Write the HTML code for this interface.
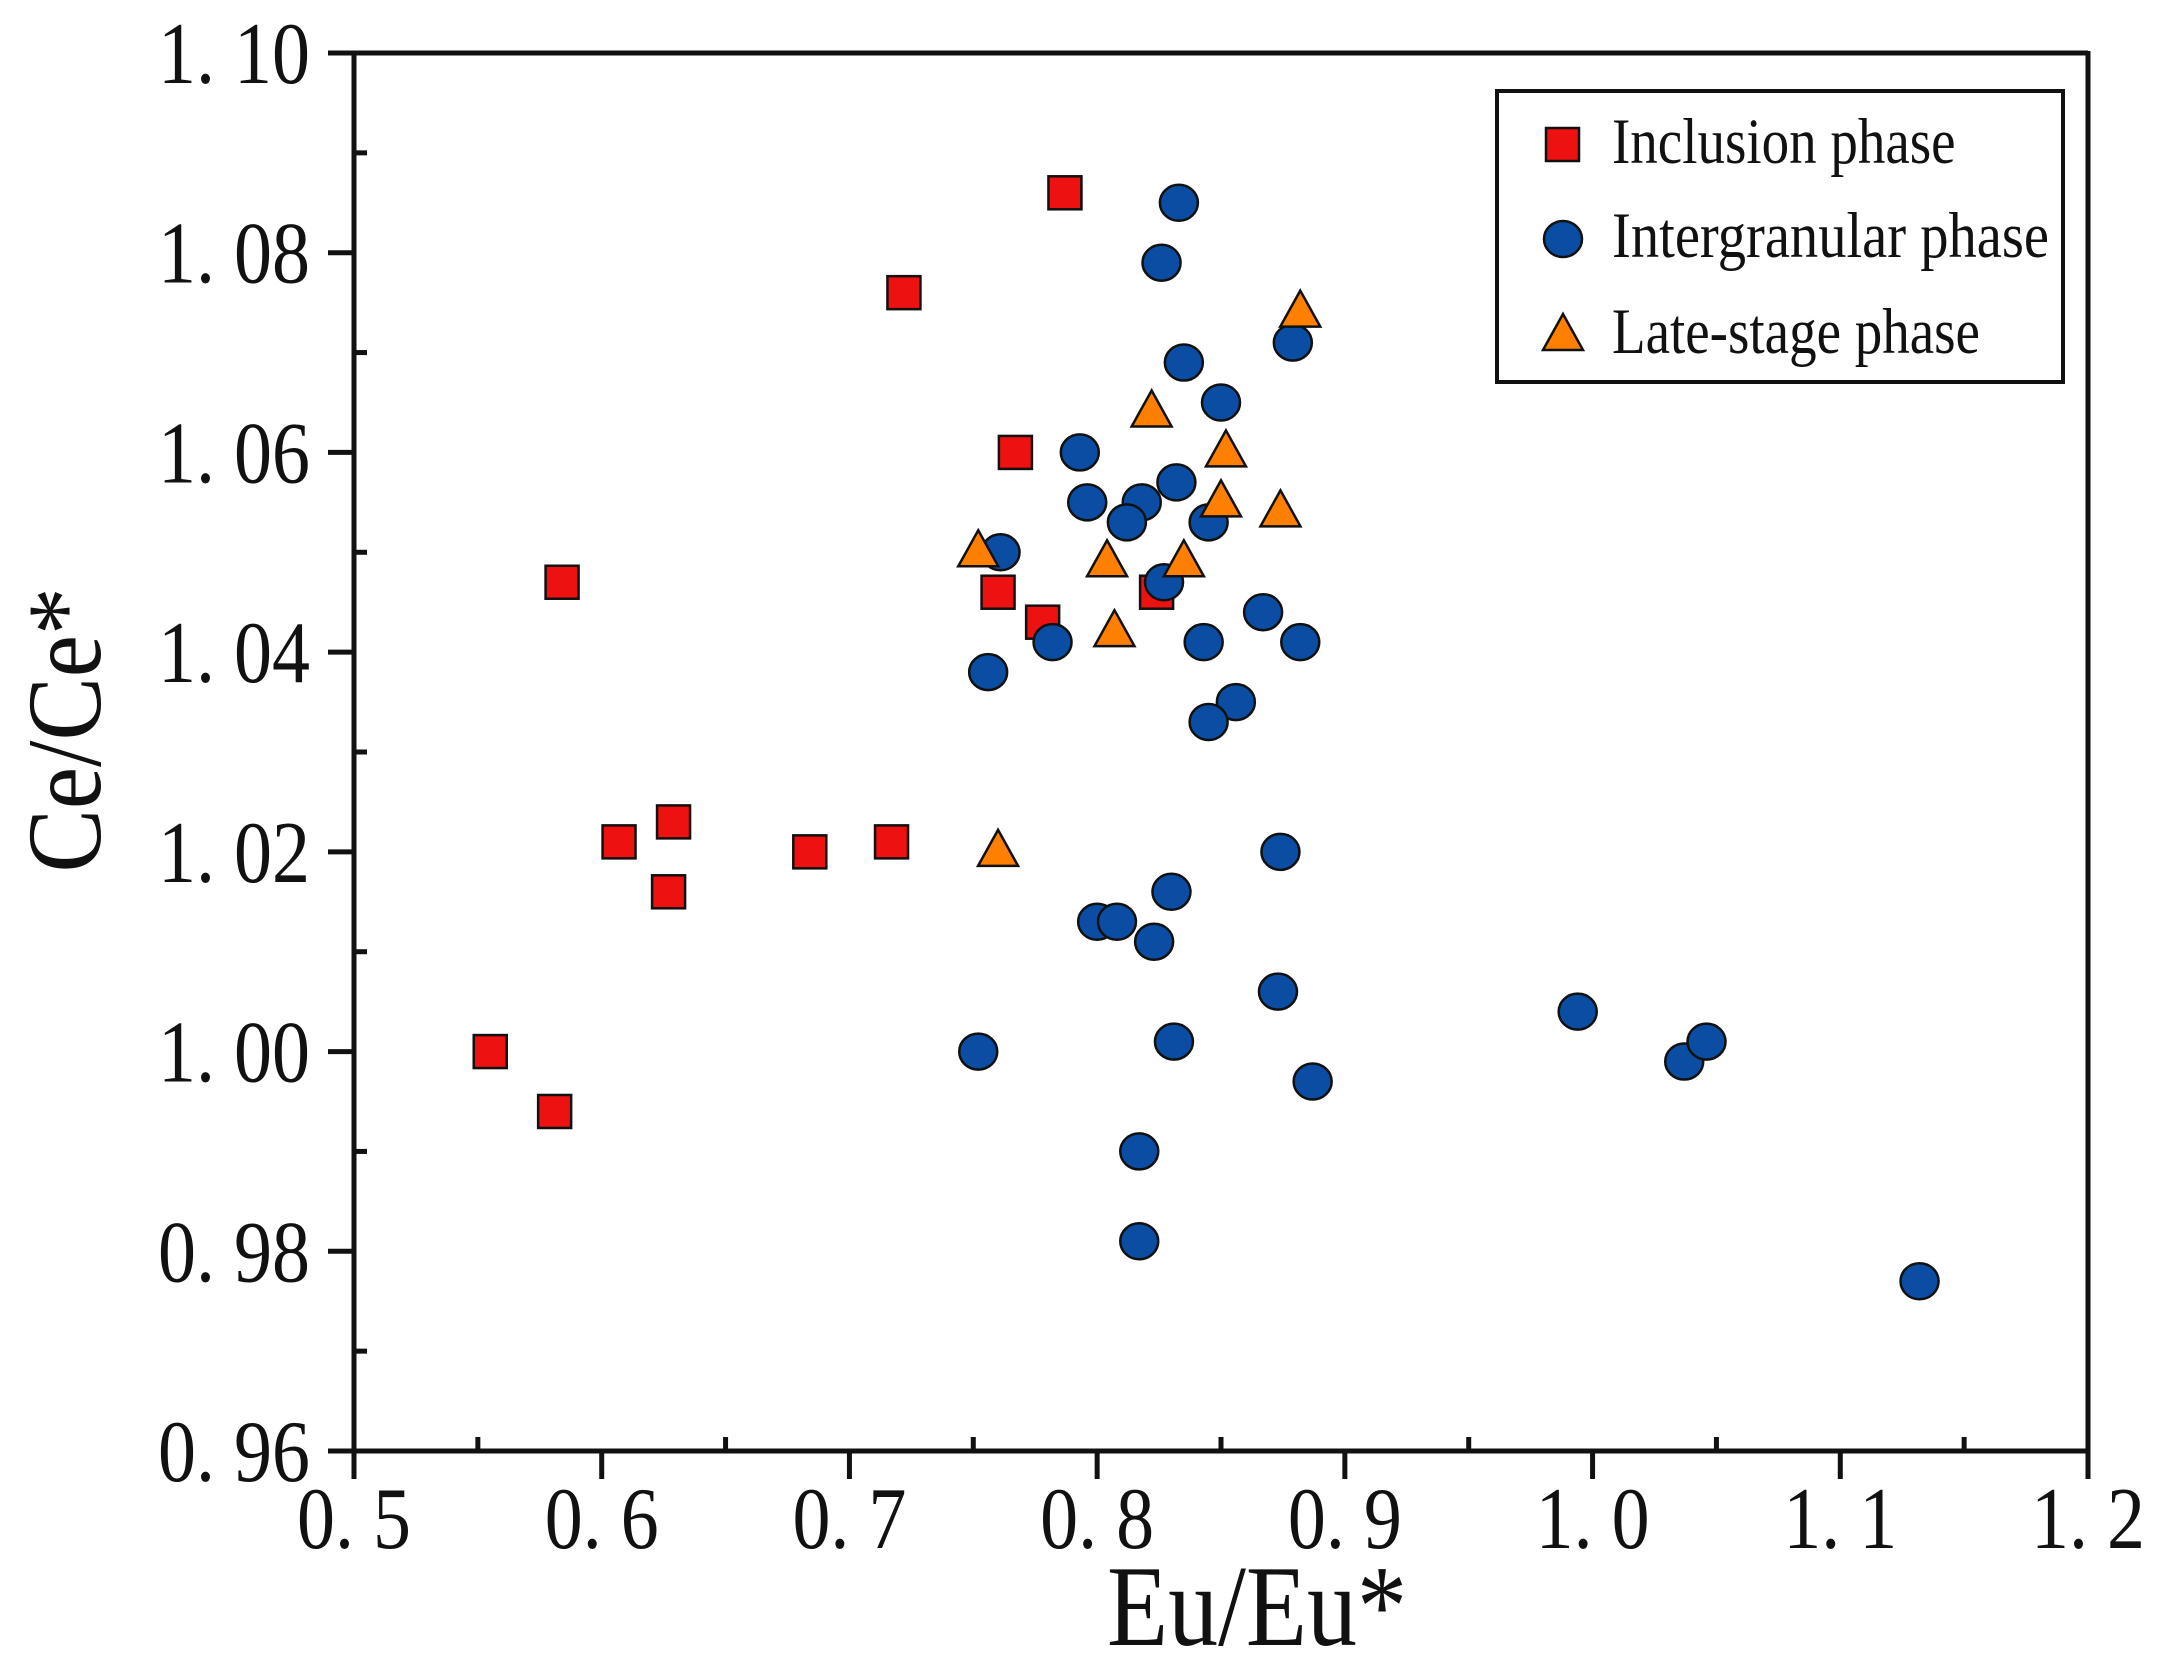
<!DOCTYPE html>
<html><head><meta charset="utf-8"><style>
html,body{margin:0;padding:0;background:#fff;}
svg{display:block;}
text{font-family:"Liberation Serif",serif;fill:#111;}
</style></head><body>
<svg id="chart" width="2173" height="1673" viewBox="0 0 2173 1673">
<rect x="0" y="0" width="2173" height="1673" fill="#fff"/>
<g id="marks"></g>
<g id="axes"></g>
<text transform="translate(1257,1645) scale(1,1.15)" font-size="100" text-anchor="middle">Eu/Eu*</text>
<text transform="translate(100,730) rotate(-90) scale(1,1.12)" font-size="95" text-anchor="middle">Ce/Ce*</text>
<g>
<rect x="1497" y="91" width="566" height="291" fill="#fff" stroke="#111" stroke-width="4"/>
<rect x="1546" y="128" width="33" height="33" fill="#ee1111" stroke="#111" stroke-width="2.5"/>
<text transform="translate(1612,163) scale(1,1.18)" font-size="55">Inclusion phase</text>
<ellipse cx="1563" cy="239" rx="19" ry="18" fill="#0a4da2" stroke="#111" stroke-width="2.5"/>
<text transform="translate(1612,257) scale(1,1.18)" font-size="55" textLength="437" lengthAdjust="spacingAndGlyphs">Intergranular phase</text>
<polygon points="1563,314 1583,350 1543,350" fill="#ff8000" stroke="#111" stroke-width="2.5"/>
<text transform="translate(1612,353) scale(1,1.18)" font-size="55">Late-stage phase</text>
</g>
</svg>
<script>
const xTicks=[0.5,0.6,0.7,0.8,0.9,1.0,1.1,1.2];
const xTickLabels=["0. 5","0. 6","0. 7","0. 8","0. 9","1. 0","1. 1","1. 2"];
const yTicks=[0.96,0.98,1.00,1.02,1.04,1.06,1.08,1.10];
const yTickLabels=["0. 96","0. 98","1. 00","1. 02","1. 04","1. 06","1. 08","1. 10"];
const inclusionX=[0.787,0.722,0.767,0.584,0.760,0.778,0.824,0.607,0.629,0.627,0.684,0.717,0.555,0.581];
const inclusionY=[1.086,1.076,1.060,1.047,1.046,1.043,1.046,1.021,1.023,1.016,1.020,1.021,1.000,0.994];
const interX=[0.833,0.826,0.835,0.879,0.850,0.793,0.796,0.818,0.812,0.832,0.845,0.761,0.827,0.867,0.782,0.843,0.882,0.756,0.856,0.845,0.874,0.830,0.800,0.808,0.823,0.873,0.994,0.752,0.831,0.887,1.037,1.046,0.817,0.817,1.132];
const interY=[1.085,1.079,1.069,1.071,1.065,1.060,1.055,1.055,1.053,1.057,1.053,1.050,1.047,1.044,1.041,1.041,1.041,1.038,1.035,1.033,1.020,1.016,1.013,1.013,1.011,1.006,1.004,1.000,1.001,0.997,0.999,1.001,0.990,0.981,0.977];
const lateX=[0.882,0.822,0.852,0.850,0.874,0.752,0.804,0.835,0.807,0.760];
const lateY=[1.074,1.064,1.060,1.055,1.054,1.050,1.049,1.049,1.042,1.020];

const X0=354,X1=2088,Y0=1451,Y1=53;
function sx(v){return X0+(v-0.5)/(1.2-0.5)*(X1-X0);}
function sy(v){return Y0-(v-0.96)/(1.10-0.96)*(Y0-Y1);}
const NS="http://www.w3.org/2000/svg";
const marks=document.getElementById('marks'),axes=document.getElementById('axes');
function mk(tag,attrs,parent){const e=document.createElementNS(NS,tag);for(const k in attrs)e.setAttribute(k,attrs[k]);parent.appendChild(e);return e;}

let ln;
ln=mk('line',{x1:X0,y1:Y0,x2:X1,y2:Y0,stroke:'#111','stroke-width':5},axes);


ln=mk('line',{x1:X0,y1:Y0+2,x2:X0,y2:Y1-2,stroke:'#111','stroke-width':5},axes);


ln=mk('line',{x1:X0,y1:Y1,x2:X1,y2:Y1,stroke:'#111','stroke-width':5},axes);


ln=mk('line',{x1:X1,y1:Y0+2,x2:X1,y2:Y1-2,stroke:'#111','stroke-width':5},axes);



xTicks.forEach((v,i)=>{
  const t=mk('line',{x1:sx(v),y1:Y0,x2:sx(v),y2:Y0+28,stroke:'#111','stroke-width':5},axes);
  
  
  const lb=mk('text',{transform:`translate(${sx(v)},1548) scale(1,1.15)`,'font-size':76,'text-anchor':'middle'},axes);
  lb.textContent=xTickLabels[i];
  
  
  if(i<xTicks.length-1){
    const m=mk('line',{x1:sx(v+0.05),y1:Y0,x2:sx(v+0.05),y2:Y0-14,stroke:'#111','stroke-width':5},axes);
    
    
  }
});
yTicks.forEach((v,i)=>{
  const t=mk('line',{x1:X0-26,y1:sy(v),x2:X0,y2:sy(v),stroke:'#111','stroke-width':5},axes);
  
  
  const lb=mk('text',{transform:`translate(310,${sy(v)+30}) scale(1,1.15)`,'font-size':76,'text-anchor':'end'},axes);
  lb.textContent=yTickLabels[i];
  
  
  if(i<yTicks.length-1){
    const m=mk('line',{x1:X0,y1:sy(v+0.01),x2:X0+13,y2:sy(v+0.01),stroke:'#111','stroke-width':5},axes);
    
    
  }
});

inclusionX.forEach((v,i)=>{
  const e=mk('rect',{x:sx(v)-16.5,y:sy(inclusionY[i])-16.5,width:33,height:33,fill:'#ee1111',stroke:'#111','stroke-width':2.5},marks);
  
  
});
interX.forEach((v,i)=>{
  const e=mk('ellipse',{cx:sx(v),cy:sy(interY[i]),rx:19,ry:18,fill:'#0a4da2',stroke:'#111','stroke-width':2.5},marks);
  
  
});
lateX.forEach((v,i)=>{
  const cx=sx(v),cy=sy(lateY[i]);
  const e=mk('polygon',{points:`${cx},${cy-22} ${cx+20},${cy+14} ${cx-20},${cy+14}`,fill:'#ff8000',stroke:'#111','stroke-width':2.5},marks);
  
  
});
</script>
</body></html>
